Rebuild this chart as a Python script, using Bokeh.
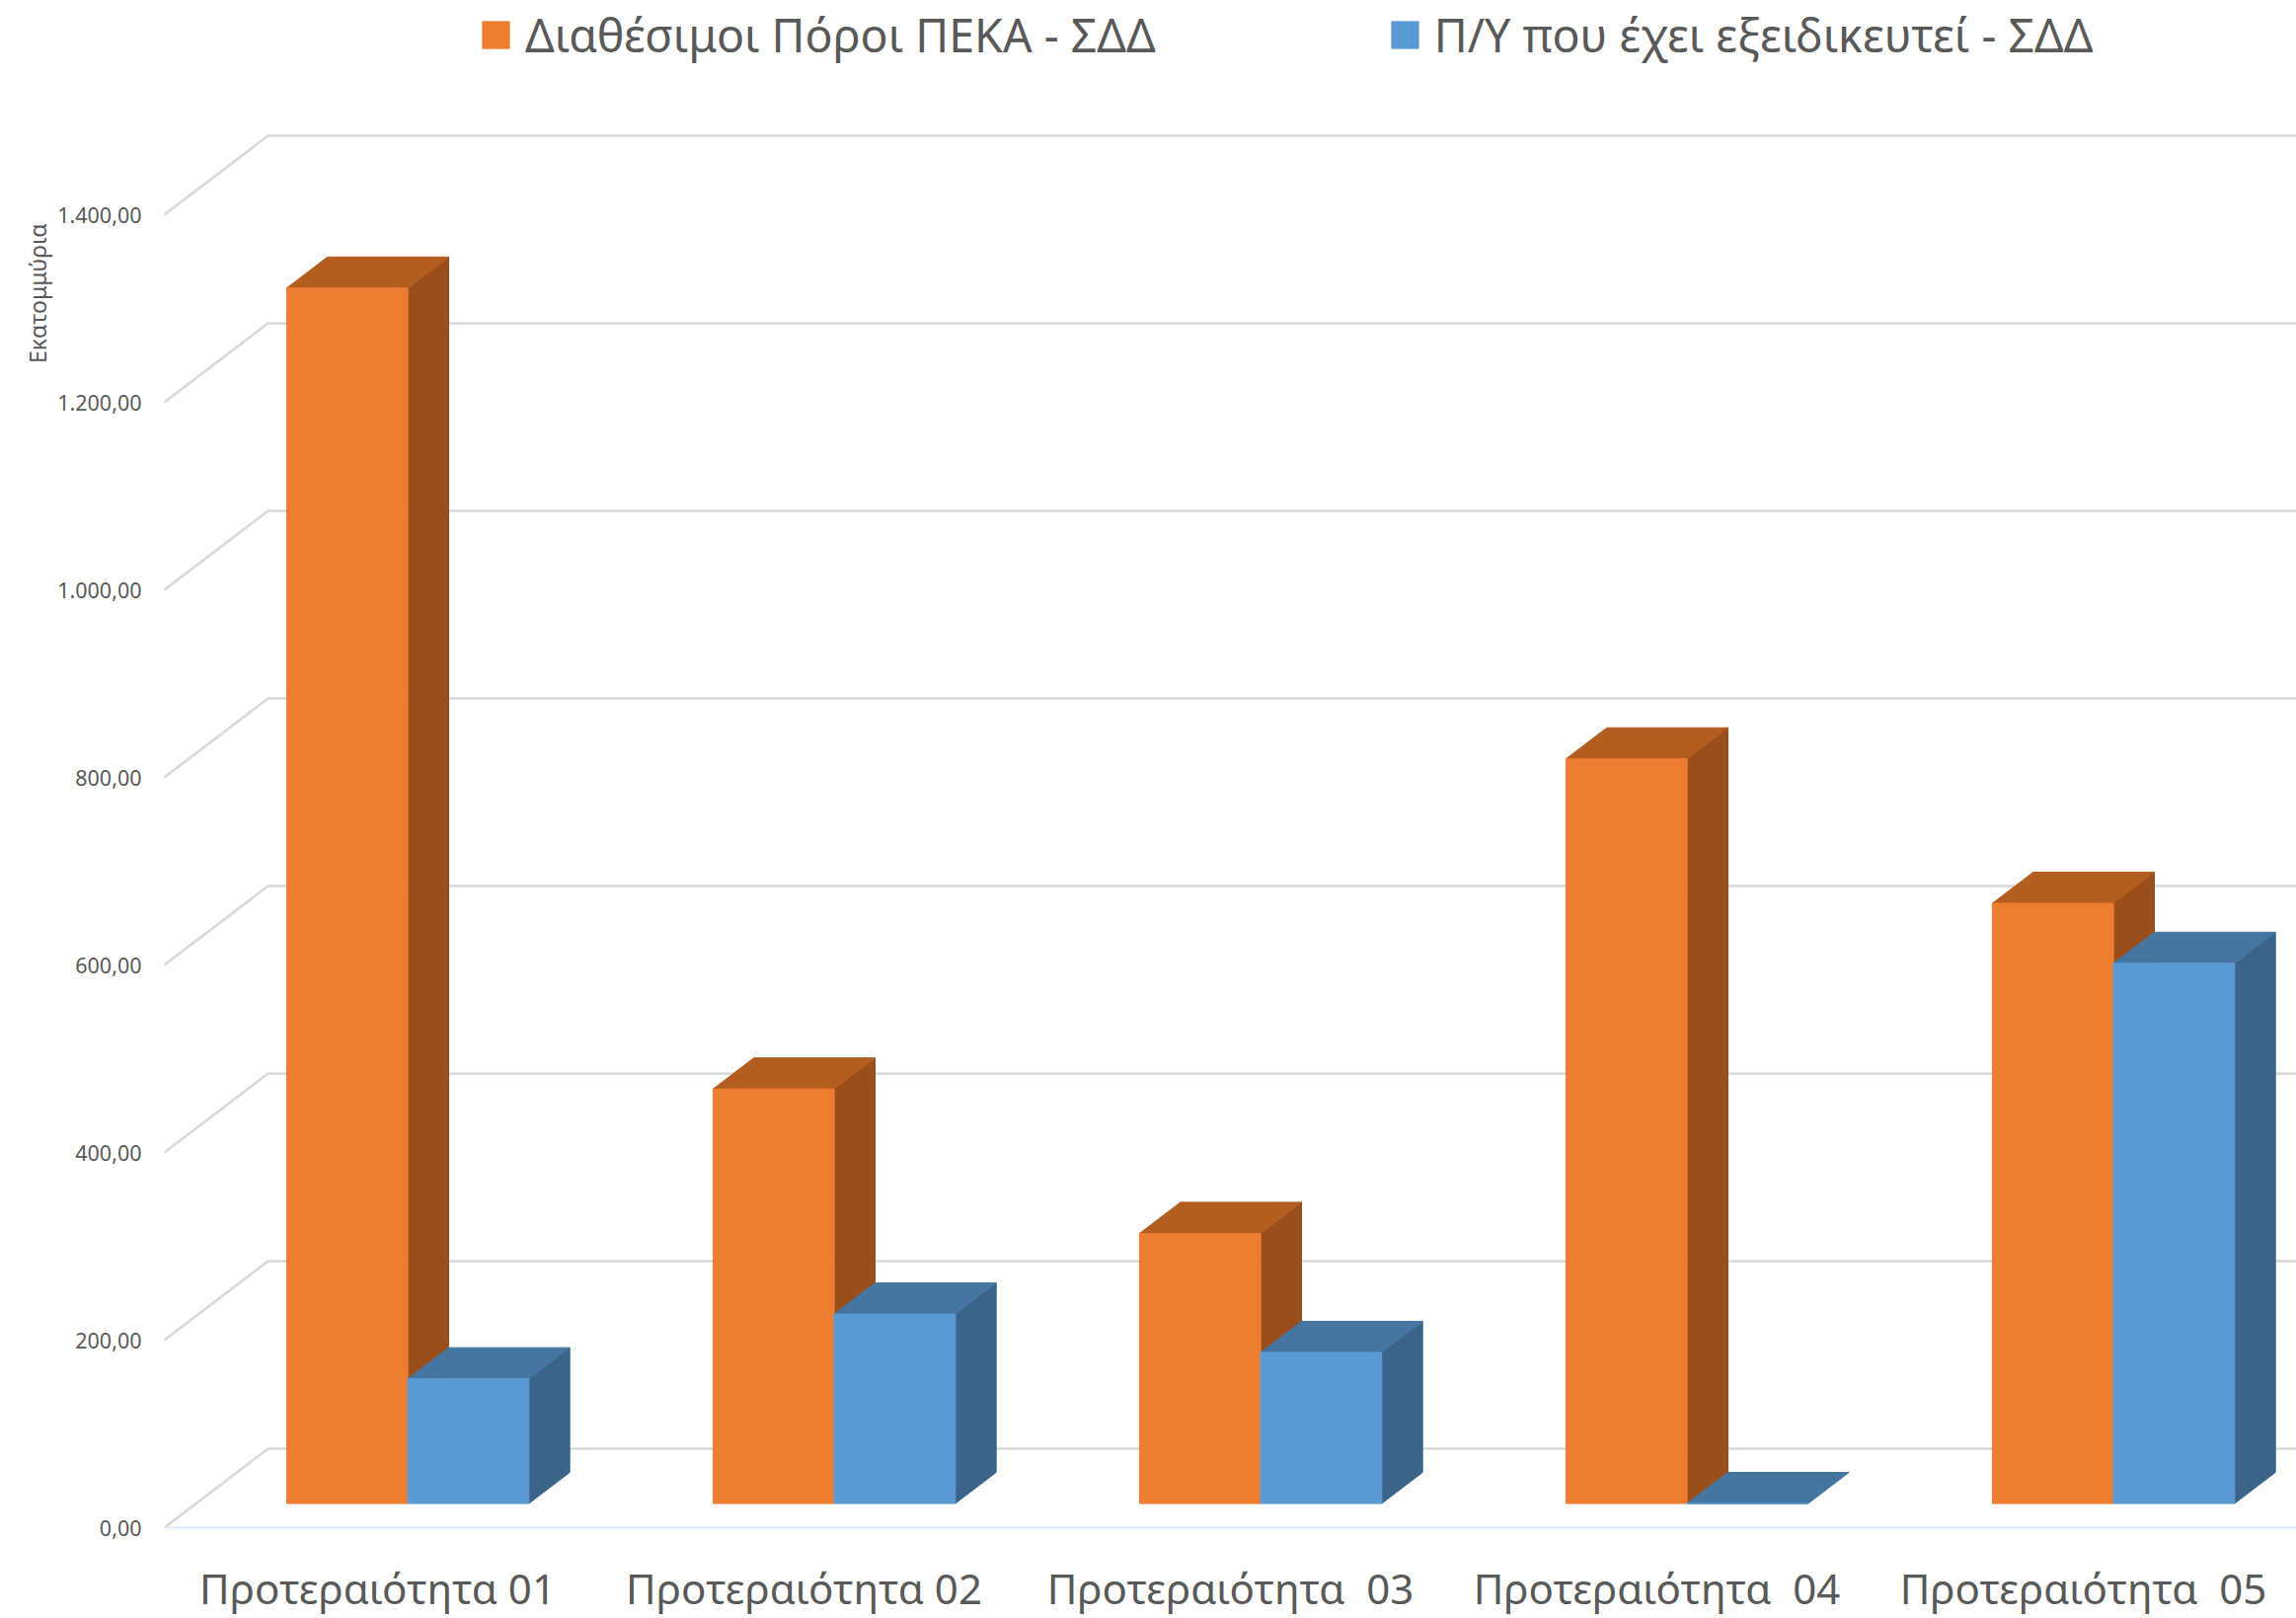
from bokeh.plotting import figure
from bokeh.models import Range1d, FixedTicker, Legend, LegendItem, Title, ColumnDataSource
from bokeh.embed import file_html
from bokeh.resources import INLINE

categories = ["Προτεραιότητα 01", "Προτεραιότητα 02", "Προτεραιότητα \u00a003", "Προτεραιότητα \u00a004", "Προτεραιότητα \u00a005"]
series_names = ["Διαθέσιμοι Πόροι ΠΕΚΑ - ΣΔΔ", "Π/Υ που έχει εξειδικευτεί - ΣΔΔ"]
resources = [1296, 442, 288, 794, 640]
specified = [133, 202, 161, 0, 576]
y_ticks = [0, 200, 400, 600, 800, 1000, 1200, 1400]
y_tick_labels = ["0,00", "200,00", "400,00", "600,00", "800,00", "1.000,00", "1.200,00", "1.400,00"]
y_title = "Εκατομμύρια"

# oblique projection of the 3-D box
WALL_DX, WALL_DY = 105 / 432, 80 / 0.95
BAR_NEAR, BAR_FAR = 0.306, 0.70
BAR_W = 0.284
BAR_SHIFT = -0.0035
X_END = 2160 / 432
Y_END = 1547 / 0.95
TEXT = "#595959"
GRID = "#d9d9d9"
FONT = "Noto Sans"

p = figure(frame_width=2160, frame_height=1547, output_backend="svg", toolbar_location=None,
           x_range=Range1d(0, X_END), y_range=Range1d(0, Y_END),
           min_border_left=166, min_border_right=0, min_border_top=0, min_border_bottom=92,
           outline_line_color=None, background_fill_color="white", border_fill_color="white")
p.grid.visible = False

# walls
xs, ys = [], []
for v in y_ticks:
    xs.append([0, WALL_DX, X_END])
    ys.append([v, v + WALL_DY, v + WALL_DY])
p.multi_line(xs, ys, line_color=GRID, line_width=2.5)

def draw_series(values, offset, front, top, side):
    sx, sy, tx, ty, cx = [], [], [], [], []
    dx0, dx1 = BAR_NEAR * WALL_DX, BAR_FAR * WALL_DX
    dy0, dy1 = BAR_NEAR * WALL_DY, BAR_FAR * WALL_DY
    for i, v in enumerate(values):
        l = i + 0.5 + offset + BAR_SHIFT
        r = l + BAR_W
        tx.append([l + dx0, l + dx1, r + dx1, r + dx0])
        ty.append([v + dy0, v + dy1, v + dy1, v + dy0])
        if v > 0:
            sx.append([r + dx0, r + dx1, r + dx1, r + dx0])
            sy.append([dy0, dy1, v + dy1, v + dy0])
        cx.append(l + dx0 + BAR_W / 2)
    p.patches(sx, sy, fill_color=side, line_color=side)
    p.patches(tx, ty, fill_color=top, line_color=top)
    src = ColumnDataSource(dict(x=cx, top=[v + dy0 for v in values], bottom=[dy0] * len(values)))
    return p.vbar(x="x", top="top", bottom="bottom", width=BAR_W, source=src,
                  fill_color=front, line_color=front)

r1 = draw_series(resources, -BAR_W, "#ED7D31", "#B35D21", "#9A4E1C")
r2 = draw_series(specified, 0, "#5B9BD5", "#4575A1", "#3A6488")

# axes
xa = p.xaxis[0]
xa.ticker = FixedTicker(ticks=[i + 0.5 for i in range(len(categories))])
xa.major_label_overrides = {i + 0.5: c for i, c in enumerate(categories)}
xa.major_label_text_font = FONT
xa.major_label_text_font_size = "42px"
xa.major_label_text_color = TEXT
xa.major_label_standoff = 26
xa.major_tick_line_color = None
xa.minor_tick_line_color = None
xa.axis_line_color = "#dfe9f3"
xa.axis_line_width = 2

ya = p.yaxis[0]
ya.ticker = FixedTicker(ticks=y_ticks)
ya.major_label_overrides = dict(zip(y_ticks, y_tick_labels))
ya.major_label_text_font = FONT
ya.major_label_text_font_size = "21.5px"
ya.major_label_text_color = TEXT
ya.major_label_standoff = 17
ya.major_tick_line_color = None
ya.minor_tick_line_color = None
ya.axis_line_color = None

p.add_layout(Title(text=y_title, align="right", offset=226, standoff=4,
                   text_font=FONT, text_font_size="23px", text_font_style="normal",
                   text_color=TEXT), "left")

legend = Legend(items=[LegendItem(label=series_names[0], renderers=[r1]),
                       LegendItem(label=series_names[1], renderers=[r2])],
                orientation="horizontal", location=(319, 1480),
                border_line_color=None, background_fill_alpha=0,
                label_text_font=FONT, label_text_font_size="46.5px", label_text_color=TEXT,
                glyph_width=34, glyph_height=34, label_standoff=13, spacing=235, margin=0, padding=0)
p.add_layout(legend)

open("out.html", "w").write(file_html(p, INLINE))
